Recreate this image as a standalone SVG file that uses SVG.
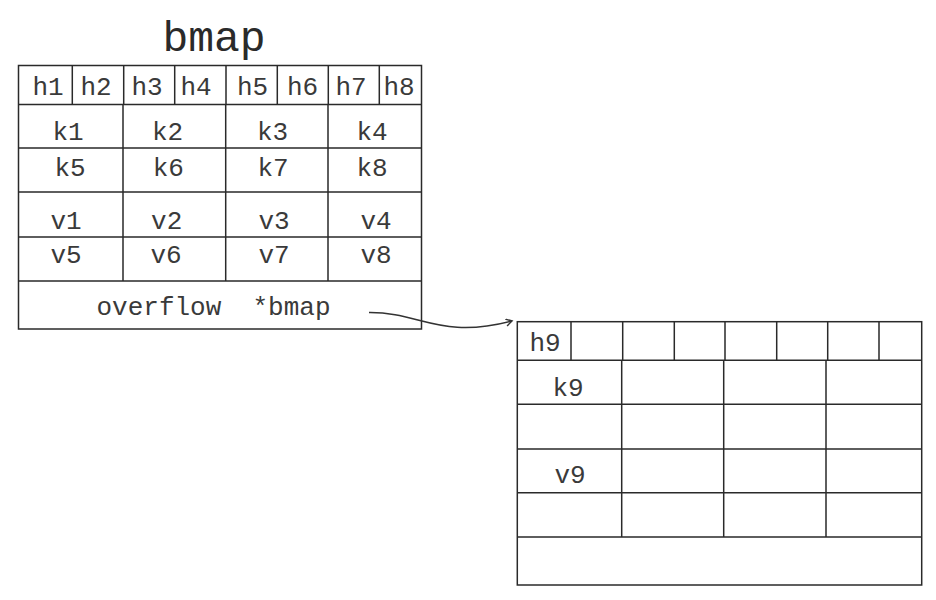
<svg xmlns="http://www.w3.org/2000/svg" width="936" height="600" viewBox="0 0 936 600">
<style>
.bg{fill:#ffffff}
.ln{stroke:#2a2a2a;stroke-width:1.5;fill:none}
.t{font-family:"Liberation Mono","Courier New",monospace;font-size:26px;fill:#3a3a3a;text-anchor:middle}
.title{font-family:"Liberation Mono","Courier New",monospace;font-size:43px;fill:#2a2a2a;text-anchor:middle}
.conn{stroke:#333;stroke-width:1.5;fill:none}
</style>
<defs>
<marker id="arr" markerWidth="10" markerHeight="10" refX="7" refY="4" orient="auto" markerUnits="userSpaceOnUse">
<path d="M1,0.5 L7,4 L1,7.5" fill="none" stroke="#333" stroke-width="1.5"/>
</marker>
</defs>
<rect class="bg" x="0" y="0" width="936" height="600"/>
<text class="title" x="214" y="51">bmap</text>
<g id="bmap">
<rect class="ln" x="18.5" y="65.5" width="403" height="263.5"/>
<path class="ln" d="M18.5,104.5H421.5M18.5,148H421.5M18.5,192H421.5M18.5,237H421.5M18.5,281H421.5"/>
<path class="ln" d="M72.3,65.5V104.5M123.7,65.5V104.5M174.7,65.5V104.5M226,65.5V104.5M277.3,65.5V104.5M328.3,65.5V104.5M379.3,65.5V104.5"/>
<path class="ln" d="M123,104.5V281M225.7,104.5V281M328,104.5V281"/>
<text class="t" x="48" y="95">h1</text>
<text class="t" x="96" y="95">h2</text>
<text class="t" x="147" y="95">h3</text>
<text class="t" x="196" y="95">h4</text>
<text class="t" x="252.5" y="95">h5</text>
<text class="t" x="302.5" y="95">h6</text>
<text class="t" x="351" y="95">h7</text>
<text class="t" x="399" y="95">h8</text>
<text class="t" x="68" y="140">k1</text>
<text class="t" x="167.5" y="140">k2</text>
<text class="t" x="272.5" y="140">k3</text>
<text class="t" x="372" y="140">k4</text>
<text class="t" x="70" y="176">k5</text>
<text class="t" x="168.3" y="176">k6</text>
<text class="t" x="273" y="176">k7</text>
<text class="t" x="372" y="176">k8</text>
<text class="t" x="66" y="228.5">v1</text>
<text class="t" x="166.7" y="228.5">v2</text>
<text class="t" x="274" y="228.5">v3</text>
<text class="t" x="376" y="228.5">v4</text>
<text class="t" x="66" y="263">v5</text>
<text class="t" x="166" y="263">v6</text>
<text class="t" x="274" y="263">v7</text>
<text class="t" x="376" y="263">v8</text>
<text class="t" x="213.5" y="315" xml:space="preserve">overflow  *bmap</text>
</g>
<g id="overflow-bmap">
<rect class="ln" x="517.3" y="321.7" width="404.4" height="263.3"/>
<path class="ln" d="M517.3,360.3H921.7M517.3,404.3H921.7M517.3,449H921.7M517.3,492.7H921.7M517.3,537H921.7"/>
<path class="ln" d="M571,321.7V360.3M622.7,321.7V360.3M674.3,321.7V360.3M725,321.7V360.3M776.7,321.7V360.3M827.7,321.7V360.3M879,321.7V360.3"/>
<path class="ln" d="M621.7,360.3V537M723.7,360.3V537M826,360.3V537"/>
<text class="t" x="545" y="350.7">h9</text>
<text class="t" x="568" y="395.7">k9</text>
<text class="t" x="570" y="483">v9</text>
</g>
<g id="connectors">
<path class="conn" d="M369,312.5 C420,312 440,340 512,321" marker-end="url(#arr)"/>
</g>
</svg>
